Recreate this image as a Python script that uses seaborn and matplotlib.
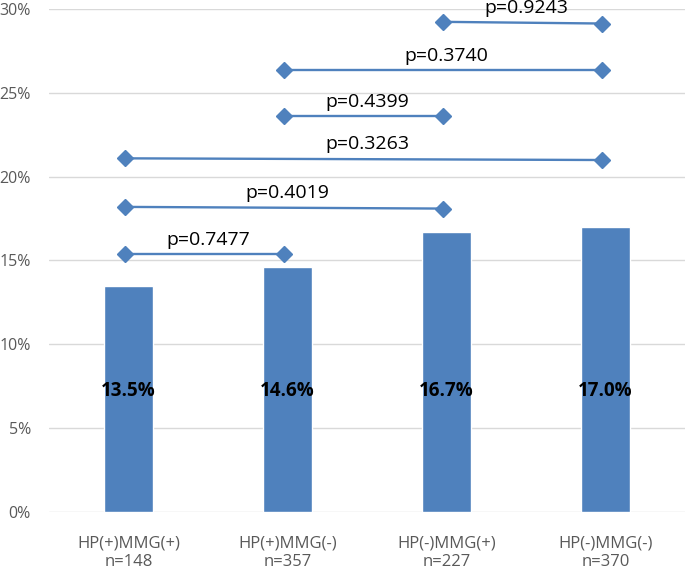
import matplotlib
matplotlib.use("Agg")
import matplotlib.pyplot as plt
import seaborn as sns
import pandas as pd

# ---- data ----
groups = ["HP(+)MMG(+)", "HP(+)MMG(-)", "HP(-)MMG(+)", "HP(-)MMG(-)"]
counts = [148, 357, 227, 370]
rates = [13.5, 14.6, 16.7, 17.0]          # percent
rate_labels = ["13.5%", "14.6%", "16.7%", "17.0%"]

# pairwise comparisons: (group index a, group index b)
pair_a = [0, 0, 0, 1, 1, 2]
pair_b = [1, 2, 3, 2, 3, 3]
pair_y_start = [15.4, 18.2, 21.1, 23.6, 26.4, 29.25]
pair_y_end = [15.4, 18.1, 21.0, 23.6, 26.4, 29.15]
p_values = ["p=0.7477", "p=0.4019", "p=0.3263", "p=0.4399", "p=0.3740", "p=0.9243"]

y_ticks = [0, 5, 10, 15, 20, 25, 30]
y_tick_labels = ["0%", "5%", "10%", "15%", "20%", "25%", "30%"]

# ---- style ----
sns.set_style("white")
plt.rcParams["font.family"] = ["Open Sans", "DejaVu Sans"]

BLUE = "#4f81bd"
GRID = "#d9d9d9"
TICK = "#595959"

fig = plt.figure(figsize=(6.85, 5.7), dpi=100)
ax = fig.add_axes([0.0715, 0.1023, 0.9285, 0.8814])

df = pd.DataFrame({"group": groups, "rate": rates})
sns.barplot(data=df, x="group", y="rate", color=BLUE, saturation=1,
            width=0.31, ax=ax, zorder=2)

ax.set_xlim(-0.5, 3.5)
ax.set_ylim(0, 30)
ax.set_yticks(y_ticks)
ax.set_yticklabels(y_tick_labels)
ax.set_xticks(range(len(groups)))
ax.set_xticklabels([f"{g}\nn={n}" for g, n in zip(groups, counts)],
                   linespacing=1.2)
ax.tick_params(axis="y", length=0, pad=13, labelsize=11.5, labelcolor=TICK)
ax.tick_params(axis="x", length=0, pad=17, labelsize=12, labelcolor=TICK)
ax.set_xlabel("")
ax.set_ylabel("")
for s in ax.spines.values():
    s.set_visible(False)
ax.yaxis.grid(True, color=GRID, linewidth=1.0, zorder=0)
ax.set_axisbelow(True)

# bar value labels
for i, lab in enumerate(rate_labels):
    ax.text(i, 7.2, lab, ha="center", va="center", fontsize=13.5,
            fontweight="bold", color="black", zorder=4)

# comparison brackets
for a, b, y0, y1, lab in zip(pair_a, pair_b, pair_y_start, pair_y_end, p_values):
    ax.plot([a - 0.02, b - 0.02], [y0, y1], color=BLUE, linewidth=1.7,
            marker="D", markersize=8, zorder=3, clip_on=False)
    ax.annotate(lab, xy=((a + b) / 2, max(y0, y1)), xytext=(0, 6.5),
                textcoords="offset points", ha="center", va="baseline",
                fontsize=14, color="black", zorder=4, annotation_clip=False)

fig.savefig("out.png", dpi=100)
